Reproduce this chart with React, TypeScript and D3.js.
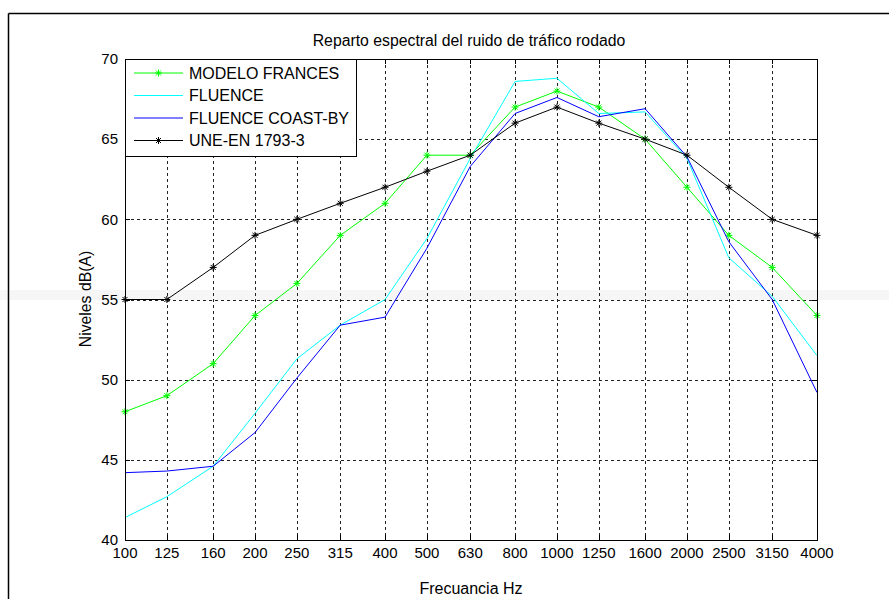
import React from "react";
import * as d3 from "d3";

const freqs = [100, 125, 160, 200, 250, 315, 400, 500, 630, 800, 1000, 1250, 1600, 2000, 2500, 3150, 4000];
const freqLabels = ["100", "125", "160", "200", "250", "315", "400", "500", "630", "800", "1000", "1250", "1600", "2000", "2500", "3150", "4000"];
const modeloFrances = [48, 49, 51, 54, 56, 59, 61, 64, 64, 67, 68, 67, 65, 62, 59, 57, 54];
const fluence = [41.4, 42.7, 44.6, 47.9, 51.3, 53.4, 55.0, 58.8, 63.8, 68.6, 68.8, 66.6, 66.7, 63.8, 57.6, 55.2, 51.5];
const fluenceCoastBy = [44.2, 44.3, 44.6, 46.7, 50.1, 53.4, 53.9, 58.2, 63.3, 66.6, 67.6, 66.4, 66.9, 63.9, 58.6, 55.0, 49.2];
const uneEn = [55, 55, 57, 59, 60, 61, 62, 63, 64, 66, 67, 66, 65, 64, 62, 60, 59];
const yTicks = [40, 45, 50, 55, 60, 65, 70];

const seriesNames = ["MODELO FRANCES", "FLUENCE", "FLUENCE COAST-BY", "UNE-EN 1793-3"];
const seriesColors = ["#00ff00", "#00ffff", "#0000ff", "#000000"];
const seriesMarkers = [true, false, false, true];
const seriesData = [modeloFrances, fluence, fluenceCoastBy, uneEn];

const FONT = "'Liberation Sans', Arial, sans-serif";

function Star({ cx, cy, color, r = 3.5 }: { cx: number; cy: number; color: string; r?: number }) {
  const d = r * 0.72;
  return (
    <g stroke={color} strokeWidth={1}>
      <line x1={cx - r} y1={cy} x2={cx + r} y2={cy} />
      <line x1={cx} y1={cy - r} x2={cx} y2={cy + r} />
      <line x1={cx - d} y1={cy - d} x2={cx + d} y2={cy + d} />
      <line x1={cx - d} y1={cy + d} x2={cx + d} y2={cy - d} />
    </g>
  );
}

export default function App() {
  const W = 889, H = 599;
  const L = 125, R = 817, T = 59, B = 540;
  const x = d3.scaleLog().domain([100, 4000]).range([L, R]);
  const y = d3.scaleLinear().domain([40, 70]).range([B, T]);
  const line = d3.line<[number, number]>().x(d => x(d[0])).y(d => y(d[1]));
  const tick = 5;

  return (
    <svg width={W} height={H} style={{ position: "absolute", left: 0, top: 0, background: "#fff" }} fontFamily={FONT}>
      <rect x={0} y={0} width={W} height={H} fill="#fff" />
      {/* faint watermark band */}
      <rect x={0} y={290} width={W} height={10} fill="#000" fillOpacity={0.035} />
      {/* outer frame */}
      <line x1={8.5} y1={13.5} x2={W} y2={13.5} stroke="#000" strokeWidth={1.5} />
      <line x1={8.5} y1={13.5} x2={8.5} y2={H} stroke="#000" strokeWidth={1.5} />
      {/* grid */}
      <g stroke="#222" strokeWidth={1} strokeDasharray="3,3">
        {freqs.slice(1, -1).map(f => (
          <line key={"gx" + f} x1={Math.round(x(f)) + 0.5} x2={Math.round(x(f)) + 0.5} y1={T} y2={B} />
        ))}
        {yTicks.slice(1, -1).map(v => (
          <line key={"gy" + v} x1={L} x2={R} y1={Math.round(y(v)) + 0.5} y2={Math.round(y(v)) + 0.5} />
        ))}
      </g>
      {/* ticks */}
      <g stroke="#000" strokeWidth={1}>
        {freqs.map(f => {
          const xx = Math.round(x(f)) + 0.5;
          return (
            <g key={"t" + f}>
              <line x1={xx} x2={xx} y1={B} y2={B - tick} />
              <line x1={xx} x2={xx} y1={T} y2={T + tick} />
            </g>
          );
        })}
        {yTicks.map(v => {
          const yy = Math.round(y(v)) + 0.5;
          return (
            <g key={"ty" + v}>
              <line x1={L} x2={L + tick} y1={yy} y2={yy} />
              <line x1={R} x2={R - tick} y1={yy} y2={yy} />
            </g>
          );
        })}
      </g>
      {/* series */}
      {seriesData.map((vals, i) => {
        const pts = freqs.map((f, j) => [f, vals[j]] as [number, number]);
        return (
          <g key={"s" + i}>
            <path d={line(pts) || ""} fill="none" stroke={seriesColors[i]} strokeWidth={1} />
            {seriesMarkers[i] && pts.map((p, j) => <Star key={j} cx={x(p[0])} cy={y(p[1])} color={seriesColors[i]} />)}
          </g>
        );
      })}
      {/* axes box */}
      <rect x={L + 0.5} y={T + 0.5} width={R - L} height={B - T} fill="none" stroke="#000" strokeWidth={1} />
      {/* tick labels */}
      <g fontSize={15} fill="#000">
        {yTicks.map(v => (
          <text key={"yl" + v} x={L - 7} y={y(v)} dy="0.35em" textAnchor="end">{v}</text>
        ))}
        {freqs.map((f, j) => (
          <text key={"xl" + f} x={x(f)} y={558} textAnchor="middle">{freqLabels[j]}</text>
        ))}
      </g>
      {/* legend */}
      <g>
        <rect x={L + 0.5} y={T + 0.5} width={231} height={97} fill="#fff" stroke="#000" strokeWidth={1} />
        {seriesNames.map((name, i) => {
          const ly = 73 + i * 22.5;
          return (
            <g key={"lg" + i}>
              <line x1={134} x2={183} y1={ly} y2={ly} stroke={seriesColors[i]} strokeWidth={1} />
              {seriesMarkers[i] && <Star cx={158.5} cy={ly} color={seriesColors[i]} />}
              <text x={189} y={ly} dy="0.35em" fontSize={16} fill="#000">{name}</text>
            </g>
          );
        })}
      </g>
      {/* titles */}
      <text x={469} y={46} textAnchor="middle" fontSize={15.8} fill="#000">Reparto espectral del ruido de tráfico rodado</text>
      <text x={471} y={594} textAnchor="middle" fontSize={16} fill="#000">Frecuancia Hz</text>
      <text transform="translate(91,299) rotate(-90)" textAnchor="middle" fontSize={15.8} fill="#000">Niveles dB(A)</text>
    </svg>
  );
}
